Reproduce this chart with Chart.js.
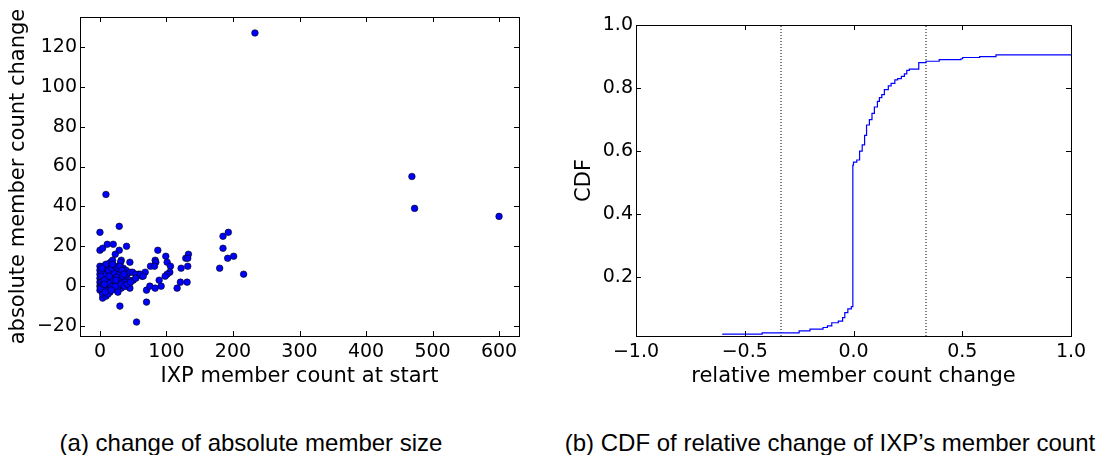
<!DOCTYPE html>
<html>
<head>
<meta charset="utf-8">
<script src="https://cdn.jsdelivr.net/npm/chart.js@4.4.1/dist/chart.umd.min.js"></script>
<style>
	html, body { margin: 0; padding: 0; background: #fff; }
	#wrap { position: relative; width: 1097px; height: 455px; overflow: hidden; }
	.box { position: absolute; top: 0; height: 389px; }
	#boxA { left: 0; width: 550px; }
	#boxB { left: 560px; width: 537px; }
	.cap { position: absolute; top: 429px; line-height: 24px; font: 24px "Liberation Sans", Arial, sans-serif; color: #000; white-space: nowrap; transform: translateX(-50%); }
</style>
</head>
<body>
<div id="wrap">
	<div class="box" id="boxA"><canvas id="chartA"></canvas></div>
	<div class="box" id="boxB"><canvas id="chartB"></canvas></div>
	<div class="cap" style="left:251px">(a) change of absolute member size</div>
	<div class="cap" style="left:830px">(b) CDF of relative change of IXP’s member count</div>
</div>
<script>
// (a) member count at start vs absolute change, one entry per IXP
var memberStart = [
	233, 469, 473, 600, 9, 0, 29, 0, 4, 11, 20, 29, 40, 23, 30, 55, 4, 70, 70,
	87, 83, 76, 84, 82, 68, 63, 58, 75, 83, 92, 89, 99, 101, 106, 105, 101, 98,
	116, 121, 122, 129, 133, 132, 132, 131, 180, 185, 185, 193, 192, 201, 216,
	0, 0, 0, 0, 0, 0, 0, 1, 5, 4, 9, 11, 16, 19, 32, 31, 45, 14, 22, 35, 39,
	41, 45, 49, 54, 61, 65, 35, 43, 50, 54, 39, 45, 32, 25, 20, 15, 12,
	5, 6, 9, 11, 13, 16, 18, 20, 24, 26, 28, 29, 21, 17, 10, 14, 3, 4, 8, 11,
	3, 6, 16, 25, 30, 34, 38, 20, 12, 9, 2, 2, 2, 1, 10, 13, 18, 23, 27, 30,
	33, 26, 23, 32, 37, 41, 46, 5, 8, 17, 27, 5, 9, 7, 3, 7, 14, 19, 24, 36
];
var memberChange = [
	127, 55, 39, 35, 46, 27, 30, 18, 19, 21, 21, 18, 20, 16, -10, -18, -6, -8, -2,
	18, 13, 10, 12, 10, 7, 5, 6, 0, -1, 0, 3, 15, 12, 10, 7, 6, 5,
	-1, 2, 9, 14, 16, 14, 10, 2, 9, 25, 19, 27, 14, 15, 6,
	10, 8, 6, 4, 2, 0, -2, 1, -2, -4, -5, 11, 12, 13, 13, 12, 12, 9, 8, 9, 8,
	6, 7, 7, 6, 6, 5, 3, 3, 3, 4, 0, -1, -1, -2, -1, -3, -4,
	8, 5, 2, 0, 4, 6, 2, 4, 6, 2, 4, 0, 1, -1, -2, 1, 3, 6, 9, 7,
	-1, 0, 3, 5, 7, 5, 2, 7, 2, 4, 7, 5, 2, -1, 6, 8, 9, 10, 9, 10,
	8, -1, 0, 1, 0, 1, 2, 1, -3, -2, -3, 10, 11, 3, 9, 1, 5, 11, 3, 6
];
var xTicksA = [0, 100, 200, 300, 400, 500, 600];
var yTicksA = [-20, 0, 20, 40, 60, 80, 100, 120];

// (b) CDF of relative change
var relChange = [
	-0.60, -0.42, -0.25, -0.20, -0.14, -0.12, -0.10, -0.07, -0.05, -0.04, -0.026, -0.01, -0.003,
	0.0, 0.015, 0.028, 0.04, 0.051, 0.06, 0.073, 0.085, 0.096, 0.11, 0.119, 0.13, 0.142,
	0.16, 0.173, 0.19, 0.203, 0.22, 0.234, 0.245, 0.257, 0.30, 0.333, 0.394, 0.494, 0.502,
	0.58, 0.655, 0.70, 1.0
];
var cdfValue = [
	0.017, 0.020, 0.024, 0.030, 0.036, 0.041, 0.046, 0.056, 0.061, 0.072, 0.088, 0.100, 0.107,
	0.556, 0.565, 0.572, 0.600, 0.620, 0.650, 0.683, 0.700, 0.720, 0.740, 0.758, 0.770, 0.779,
	0.795, 0.807, 0.815, 0.826, 0.830, 0.837, 0.845, 0.856, 0.860, 0.881, 0.885, 0.890, 0.893,
	0.897, 0.900, 0.905, 0.905
];
var guideX = [-1 / 3, 1 / 3];
var xTicksB = [-1.0, -0.5, 0.0, 0.5, 1.0];
var yTicksB = [0.2, 0.4, 0.6, 0.8, 1.0];

Chart.defaults.font.family = '"DejaVu Sans", sans-serif';
Chart.defaults.font.size = 19;
Chart.defaults.color = '#000';

function minus(s) {
	return String(s).replace('-', '\u2212');
}

function setTicks(list) {
	return function(scale) {
		scale.ticks = list.map(function(v) { return { value: v }; });
	};
}

// matplotlib-like frame with ticks pointing inwards on all four sides
var framePlugin = {
	id: 'frame',
	afterDraw: function(chart) {
		var ctx = chart.ctx;
		var a = chart.chartArea;
		var xs = chart.scales.x;
		var ys = chart.scales.y;
		var len = 5;
		ctx.save();
		ctx.strokeStyle = '#000';
		ctx.lineWidth = 1;
		ctx.beginPath();
		xs.ticks.forEach(function(t) {
			var px = Math.round(xs.getPixelForValue(t.value)) + 0.5;
			ctx.moveTo(px, a.bottom);
			ctx.lineTo(px, a.bottom - len);
			ctx.moveTo(px, a.top);
			ctx.lineTo(px, a.top + len);
		});
		ys.ticks.forEach(function(t) {
			var py = Math.round(ys.getPixelForValue(t.value)) + 0.5;
			ctx.moveTo(a.left, py);
			ctx.lineTo(a.left + len, py);
			ctx.moveTo(a.right, py);
			ctx.lineTo(a.right - len, py);
		});
		ctx.stroke();
		ctx.strokeRect(Math.round(a.left) + 0.5, Math.round(a.top) + 0.5,
			Math.round(a.right - a.left), Math.round(a.bottom - a.top));
		ctx.restore();
	}
};

function axis(opts) {
	return {
		type: 'linear',
		min: opts.min,
		max: opts.max,
		afterBuildTicks: setTicks(opts.ticks),
		afterFit: function(scale) {
			if (opts.width) scale.width = opts.width;
			if (opts.height) scale.height = opts.height;
		},
		grid: { display: false, drawTicks: false },
		border: { display: false },
		ticks: {
			padding: opts.pad,
			maxRotation: 0,
			autoSkip: false,
			callback: opts.fmt
		},
		title: {
			display: true,
			text: opts.title,
			font: { size: 21 },
			padding: opts.titlePad
		}
	};
}

var pointsA = memberStart.map(function(x, i) {
	return { x: x, y: memberChange[i] };
});

new Chart(document.getElementById('chartA'), {
	type: 'scatter',
	data: {
		datasets: [{
			data: pointsA,
			pointRadius: 3.3,
			pointBackgroundColor: '#0000ff',
			pointBorderColor: '#000',
			pointBorderWidth: 0.6
		}]
	},
	options: {
		responsive: true,
		maintainAspectRatio: false,
		animation: false,
		layout: { padding: { top: 17, right: 31, left: 0, bottom: 0 } },
		plugins: { legend: { display: false }, tooltip: { enabled: false } },
		scales: {
			x: axis({ min: -30, max: 630, ticks: xTicksA, height: 53, pad: 5,
				title: 'IXP member count at start', titlePad: { top: 0, bottom: 0 },
				fmt: function(v) { return minus(v); } }),
			y: axis({ min: -25, max: 135, ticks: yTicksA, width: 80, pad: 3,
				title: 'absolute member count change', titlePad: { top: 6, bottom: 0 },
				fmt: function(v) { return minus(v); } })
		}
	},
	plugins: [framePlugin]
});

var cdfPoints = relChange.map(function(x, i) {
	return { x: x, y: cdfValue[i] };
});
var yMinB = 0.014;
var yMaxB = 1.0;
var guideSets = guideX.map(function(gx) {
	return {
		data: [{ x: gx, y: yMinB }, { x: gx, y: yMaxB }],
		showLine: true,
		borderColor: '#000',
		borderWidth: 1,
		borderDash: [1, 2],
		pointRadius: 0
	};
});

new Chart(document.getElementById('chartB'), {
	type: 'scatter',
	data: {
		datasets: [{
			data: cdfPoints,
			showLine: true,
			stepped: 'after',
			borderColor: '#0000ff',
			borderWidth: 1.2,
			pointRadius: 0
		}].concat(guideSets)
	},
	options: {
		responsive: true,
		maintainAspectRatio: false,
		animation: false,
		layout: { padding: { top: 25, right: 26, left: 0, bottom: 0 } },
		plugins: { legend: { display: false }, tooltip: { enabled: false } },
		scales: {
			x: axis({ min: -1, max: 1, ticks: xTicksB, height: 53, pad: 5,
				title: 'relative member count change', titlePad: { top: 0, bottom: 0 },
				fmt: function(v) { return minus(v.toFixed(1)); } }),
			y: axis({ min: yMinB, max: yMaxB, ticks: yTicksB, width: 76, pad: 3,
				title: 'CDF', titlePad: { top: 12, bottom: 0 },
				fmt: function(v) { return v.toFixed(1); } })
		}
	},
	plugins: [framePlugin]
});
</script>
</body>
</html>
